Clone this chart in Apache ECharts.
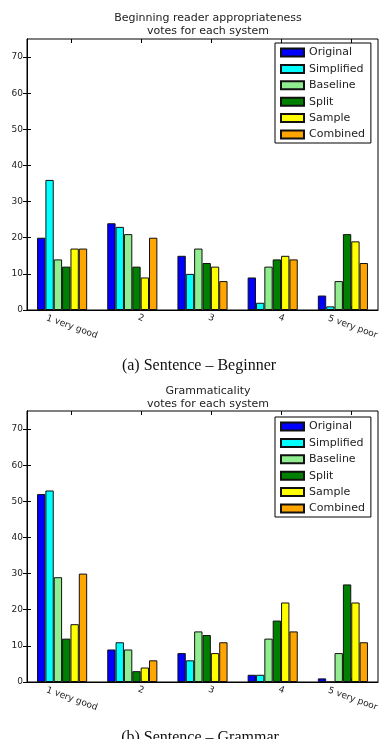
<!DOCTYPE html>
<html>
<head>
<meta charset="utf-8">
<script src="https://cdn.jsdelivr.net/npm/echarts@6/dist/echarts.min.js"></script>
<style>
  html, body { margin: 0; padding: 0; background: #fff; }
  #main { width: 385px; height: 739px; }
</style>
</head>
<body>
<div id="main"></div>
<script>
// 数据
var categories = ['1 very good', '2', '3', '4', '5 very poor'];
var systems = ['Original', 'Simplified', 'Baseline', 'Split', 'Sample', 'Combined'];
var colors = ['#0000ff', '#00ffff', '#90ee90', '#008000', '#ffff00', '#ffa500'];
var yTicks = [0, 10, 20, 30, 40, 50, 60, 70];

// (a) Sentence – Beginner
var beginner = {
  Original:   [20, 24, 15, 9, 4],
  Simplified: [36, 23, 10, 2, 1],
  Baseline:   [14, 21, 17, 12, 8],
  Split:      [12, 12, 13, 14, 21],
  Sample:     [17, 9, 12, 15, 19],
  Combined:   [17, 20, 8, 14, 13]
};
// (b) Sentence – Grammar
var grammar = {
  Original:   [52, 9, 8, 2, 1],
  Simplified: [53, 11, 6, 2, 0],
  Baseline:   [29, 9, 14, 12, 8],
  Split:      [12, 3, 13, 17, 27],
  Sample:     [16, 4, 8, 22, 22],
  Combined:   [30, 6, 11, 14, 11]
};

var tickPos = categories.map(function (c, i) { return i + 0.625; });
var font = 'DejaVu Sans';

var myChart = echarts.init(document.getElementById('main'));

function buildGrid(top) {
  return { left: 27, right: 7, top: top, height: 271, show: true, borderColor: '#000', borderWidth: 1, backgroundColor: '#fff' };
}

var grids = [buildGrid(39), buildGrid(411)];
var xAxes = [], yAxes = [], series = [], legends = [];

[0, 1].forEach(function (g) {
  // 类目轴，只用来放柱子
  xAxes.push({
    type: 'category', gridIndex: g, data: categories,
    axisLine: { lineStyle: { color: '#000' } },
    axisTick: { show: false }, axisLabel: { show: false }
  });
  // 底部刻度和标签
  xAxes.push({
    type: 'value', gridIndex: g, position: 'bottom', min: 0, max: 5,
    splitLine: { show: false },
    axisLine: { show: false },
    axisTick: { inside: true, length: 4, customValues: tickPos, lineStyle: { color: '#000' } },
    axisLabel: {
      customValues: tickPos, rotate: -20, margin: 8,
      align: 'center', verticalAlign: 'middle',
      formatter: function (v) {
        var s = categories[Math.round(v - 0.625)];
        return s.length > 2 ? '{long|' + s + '}' : '{short|' + s + '}';
      },
      rich: {
        long: { fontFamily: font, fontSize: 9, color: '#222', padding: [16, 0, 0, 8] },
        short: { fontFamily: font, fontSize: 9, color: '#222' }
      }
    }
  });
  // 顶部刻度
  xAxes.push({
    type: 'value', gridIndex: g, position: 'top', min: 0, max: 5,
    splitLine: { show: false }, axisLine: { show: false }, axisLabel: { show: false },
    axisTick: { inside: true, length: 4, customValues: tickPos, lineStyle: { color: '#000' } }
  });
  yAxes.push({
    type: 'value', gridIndex: g, position: 'left', min: 0, max: 75, interval: 10,
    splitLine: { show: false },
    axisLine: { show: true, lineStyle: { color: '#000' } },
    axisTick: { inside: true, length: 4, customValues: yTicks, lineStyle: { color: '#000' } },
    axisLabel: { customValues: yTicks, fontFamily: font, fontSize: 9, color: '#222', margin: 4 }
  });
  yAxes.push({
    type: 'value', gridIndex: g, position: 'right', min: 0, max: 75, interval: 10,
    splitLine: { show: false },
    axisLine: { show: true, lineStyle: { color: '#000' } },
    axisTick: { inside: true, length: 4, customValues: yTicks, lineStyle: { color: '#000' } },
    axisLabel: { show: false }
  });

  var data = g === 0 ? beginner : grammar;
  systems.forEach(function (name, i) {
    series.push({
      name: name, type: 'bar',
      xAxisIndex: g * 3, yAxisIndex: g * 2,
      data: data[name],
      barCategoryGap: '28.6%', barGap: '0%',
      itemStyle: { color: colors[i], borderColor: '#111', borderWidth: 1 },
      emphasis: { disabled: true }
    });
  });

  legends.push({
    data: systems, orient: 'vertical',
    left: 275, top: g === 0 ? 43 : 417,
    itemWidth: 23, itemHeight: 8, itemGap: 3.4,
    padding: [3, 6, 2, 5],
    borderColor: '#000', borderWidth: 1, backgroundColor: '#fff',
    icon: 'rect',
    textStyle: { fontFamily: font, fontSize: 11, color: '#222', lineHeight: 13 }
  });
});

var option = {
  animation: false,
  backgroundColor: '#fff',
  title: [
    { text: 'Beginning reader appropriateness\nvotes for each system', left: 203, top: 7, textAlign: 'center',
      textStyle: { fontFamily: font, fontSize: 11, fontWeight: 'normal', color: '#222', lineHeight: 13 } },
    { text: '(a) Sentence – Beginner', left: 194, top: 353, textAlign: 'center',
      textStyle: { fontFamily: 'Liberation Serif', fontSize: 16, fontWeight: 'normal', color: '#111' } },
    { text: 'Grammaticality\nvotes for each system', left: 203, top: 380, textAlign: 'center',
      textStyle: { fontFamily: font, fontSize: 11, fontWeight: 'normal', color: '#222', lineHeight: 13 } },
    { text: '(b) Sentence – Grammar', left: 195, top: 725, textAlign: 'center',
      textStyle: { fontFamily: 'Liberation Serif', fontSize: 16, fontWeight: 'normal', color: '#111' } }
  ],
  legend: legends,
  grid: grids,
  xAxis: xAxes,
  yAxis: yAxes,
  series: series
};

myChart.setOption(option);
</script>
</body>
</html>
